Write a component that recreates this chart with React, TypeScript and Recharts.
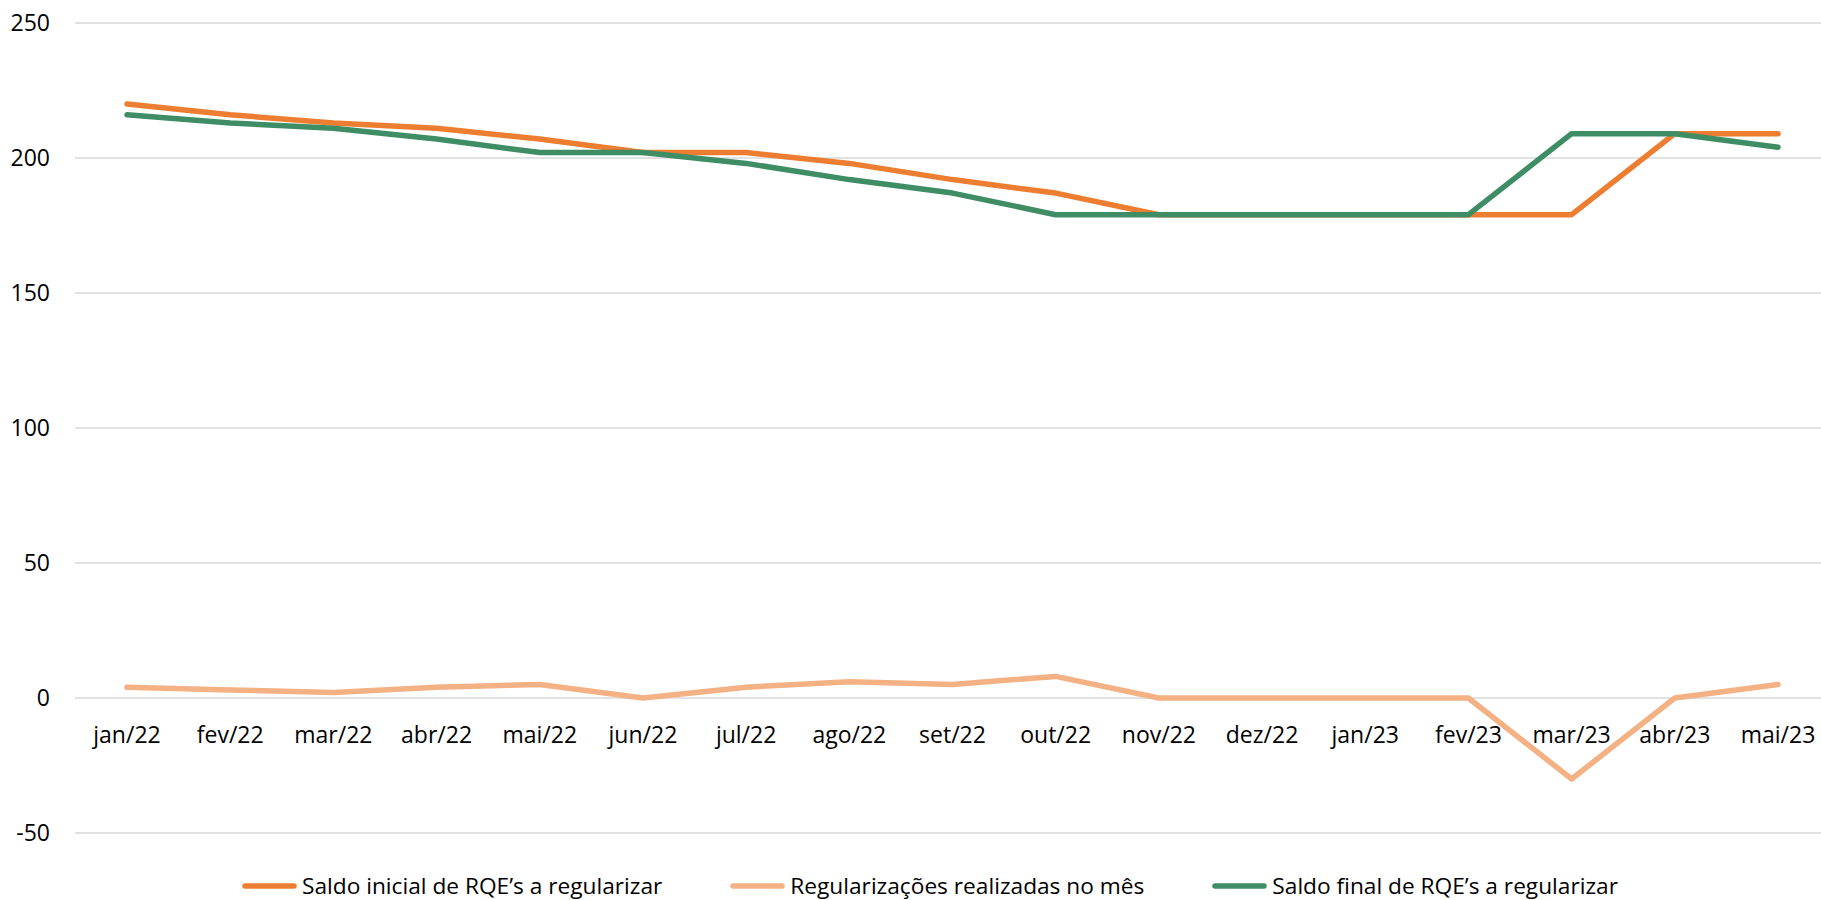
import React from "react";
import { LineChart, Line, XAxis, YAxis, CartesianGrid, Legend } from "recharts";

const months = [
  "jan/22", "fev/22", "mar/22", "abr/22", "mai/22", "jun/22", "jul/22", "ago/22", "set/22",
  "out/22", "nov/22", "dez/22", "jan/23", "fev/23", "mar/23", "abr/23", "mai/23",
];
const saldoInicial = [220, 216, 213, 211, 207, 202, 202, 198, 192, 187, 179, 179, 179, 179, 179, 209, 209];
const regularizacoes = [4, 3, 2, 4, 5, 0, 4, 6, 5, 8, 0, 0, 0, 0, -30, 0, 5];
const saldoFinal = [216, 213, 211, 207, 202, 202, 198, 192, 187, 179, 179, 179, 179, 179, 209, 209, 204];
const yTicks = [-50, 0, 50, 100, 150, 200, 250];

const seriesNames = {
  inicial: "Saldo inicial de RQE’s a regularizar",
  reg: "Regularizações realizadas no mês",
  final: "Saldo final de RQE’s a regularizar",
};
const colors = { inicial: "#ED7D31", reg: "#F4B183", final: "#3E8D65" };

const data = months.map((m, i) => ({
  month: m,
  inicial: saldoInicial[i],
  reg: regularizacoes[i],
  final: saldoFinal[i],
}));

const FONT = "'Open Sans', 'Noto Sans', sans-serif";
const FS = 23;
const LFS = 22.7;

const XTick = (props: any) => {
  const { x, y, payload } = props;
  return (
    <text x={x} y={y - 90} textAnchor="middle" fontFamily={FONT} fontSize={FS} fill="#000">
      {payload.value}
    </text>
  );
};

const LegendContent = () => {
  const items = [
    { key: "inicial", label: seriesNames.inicial, color: colors.inicial },
    { key: "reg", label: seriesNames.reg, color: colors.reg },
    { key: "final", label: seriesNames.final, color: colors.final },
  ];
  return (
    <div
      style={{
        display: "flex",
        flexDirection: "row",
        alignItems: "center",
        height: 26,
        paddingLeft: 242,
        gap: 68,
        fontFamily: FONT,
        fontSize: LFS,
        color: "#000",
        whiteSpace: "nowrap",
      }}
    >
      {items.map((it) => (
        <div key={it.key} style={{ display: "flex", alignItems: "center", height: 26 }}>
          <svg width={55} height={8} style={{ display: "block", marginRight: 5 }}>
            <line x1={3} y1={4} x2={52} y2={4} stroke={it.color} strokeWidth={5.5} strokeLinecap="round" />
          </svg>
          <span style={{ lineHeight: "26px" }}>{it.label}</span>
        </div>
      ))}
    </div>
  );
};

export default function App() {
  return (
    <div
      style={{
        position: "fixed",
        left: 0,
        top: 0,
        width: 1821,
        height: 900,
        overflow: "hidden",
        background: "#fff",
      }}
    >
      <LineChart
        width={1840}
        height={900}
        data={data}
        margin={{ top: 23, right: 10, bottom: 11, left: 0 }}
      >
        <CartesianGrid vertical={false} stroke="#D9D9D9" strokeWidth={1.3} />
        <XAxis
          dataKey="month"
          axisLine={false}
          tickLine={false}
          tickSize={0}
          tickMargin={0}
          height={30}
          interval={0}
          padding={{ left: 52, right: 52 }}
          tick={<XTick />}
        />
        <YAxis
          width={75}
          domain={[-50, 250]}
          ticks={yTicks}
          axisLine={false}
          tickLine={false}
          tickSize={0}
          tickMargin={25}
          tick={{ fontFamily: FONT, fontSize: FS, fill: "#000" }}
        />
        <Legend
          verticalAlign="bottom"
          content={<LegendContent />}
          wrapperStyle={{ left: 0, bottom: 1, width: 1840, height: 26 }}
        />
        <Line
          type="linear"
          dataKey="inicial"
          name={seriesNames.inicial}
          stroke={colors.inicial}
          strokeWidth={5.5}
          strokeLinecap="round"
          strokeLinejoin="round"
          dot={false}
          activeDot={false}
          isAnimationActive={false}
        />
        <Line
          type="linear"
          dataKey="reg"
          name={seriesNames.reg}
          stroke={colors.reg}
          strokeWidth={5.5}
          strokeLinecap="round"
          strokeLinejoin="round"
          dot={false}
          activeDot={false}
          isAnimationActive={false}
        />
        <Line
          type="linear"
          dataKey="final"
          name={seriesNames.final}
          stroke={colors.final}
          strokeWidth={5.5}
          strokeLinecap="round"
          strokeLinejoin="round"
          dot={false}
          activeDot={false}
          isAnimationActive={false}
        />
      </LineChart>
    </div>
  );
}
